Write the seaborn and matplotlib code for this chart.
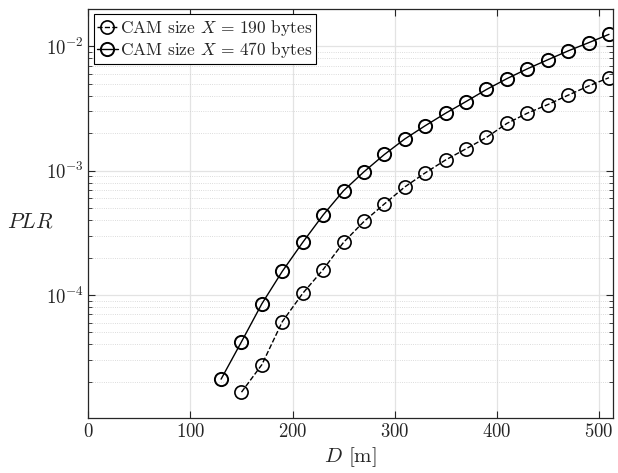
import numpy as np
import pandas as pd
import matplotlib
matplotlib.use("Agg")
import matplotlib.pyplot as plt
import matplotlib.ticker as mticker
import seaborn as sns

# distance D [m]
d_470 = [130, 150, 170, 190, 210, 230, 250, 270, 290, 310,
         330, 350, 370, 390, 410, 430, 450, 470, 490, 510]
d_190 = [150, 170, 190, 210, 230, 250, 270, 290, 310,
         330, 350, 370, 390, 410, 430, 450, 470, 490, 510]

# packet loss ratio
plr_470 = [2.1e-5, 4.2e-5, 8.5e-5, 1.55e-4, 2.65e-4, 4.4e-4, 6.9e-4, 9.8e-4, 1.35e-3, 1.8e-3,
           2.3e-3, 2.9e-3, 3.6e-3, 4.5e-3, 5.5e-3, 6.6e-3, 7.8e-3, 9.2e-3, 1.07e-2, 1.25e-2]
plr_190 = [1.65e-5, 2.75e-5, 6.1e-5, 1.03e-4, 1.6e-4, 2.65e-4, 3.9e-4, 5.4e-4, 7.4e-4,
           9.6e-4, 1.22e-3, 1.5e-3, 1.85e-3, 2.4e-3, 2.9e-3, 3.4e-3, 4.05e-3, 4.8e-3, 5.6e-3]

labels = [r"CAM size $X\,=\,190$ bytes", r"CAM size $X\,=\,470$ bytes"]

sns.set_style("ticks")
plt.rcParams["font.family"] = ["cmr10", "DejaVu Serif"]
plt.rcParams["mathtext.fontset"] = "cm"
plt.rcParams["axes.formatter.use_mathtext"] = True

fig = plt.figure(figsize=(6.18, 4.73), dpi=100)
ax = fig.add_axes([0.143, 0.116, 0.849, 0.865])

df190 = pd.DataFrame({"D": d_190, "PLR": plr_190})
df470 = pd.DataFrame({"D": d_470, "PLR": plr_470})

mk = dict(marker="o", markersize=9.5, markerfacecolor="none", markeredgecolor="k",
          color="k", linewidth=1.0)
sns.lineplot(data=df190, x="D", y="PLR", ax=ax, label=labels[0], linestyle="--",
             markeredgewidth=1.2, **mk)
sns.lineplot(data=df470, x="D", y="PLR", ax=ax, label=labels[1], linestyle="-",
             markeredgewidth=1.4, **mk)

ax.set_yscale("log")
ax.set_xlim(0, 514)
ax.set_ylim(1.02e-5, 2e-2)
ax.set_xticks([0, 100, 200, 300, 400, 500])
ax.yaxis.set_major_locator(mticker.LogLocator(base=10, numticks=10))
ax.yaxis.set_minor_locator(mticker.LogLocator(base=10, subs=np.arange(2, 10), numticks=20))
ax.yaxis.set_minor_formatter(mticker.NullFormatter())

ax.grid(True, which="major", color="#e3e3e3", linewidth=0.9, linestyle="-")
ax.grid(True, which="minor", axis="y", color="#d0d0d0", linewidth=0.6, linestyle=":")
ax.set_axisbelow(True)

ax.tick_params(which="both", direction="in", top=True, right=True, labelsize=13.5, colors="#262626")
ax.tick_params(which="major", length=5, width=0.8)
ax.tick_params(which="minor", length=3, width=0.6)
for s in ax.spines.values():
    s.set_color("#262626")
    s.set_linewidth(0.9)

ax.set_xlabel(r"$D$ [m]", fontsize=15, labelpad=3)
ax.set_ylabel(r"$PLR$", fontsize=15.5, rotation=0, va="center", ha="center")
ax.yaxis.set_label_coords(-0.11, 0.48)

leg = ax.legend(loc="upper left", fontsize=12.5, frameon=True, fancybox=False,
                edgecolor="k", framealpha=1, handlelength=1.2, handletextpad=0.1,
                borderpad=0.2, labelspacing=0.15, borderaxespad=0.3)
leg.get_frame().set_linewidth(0.8)

fig.savefig("out.png", dpi=100)
